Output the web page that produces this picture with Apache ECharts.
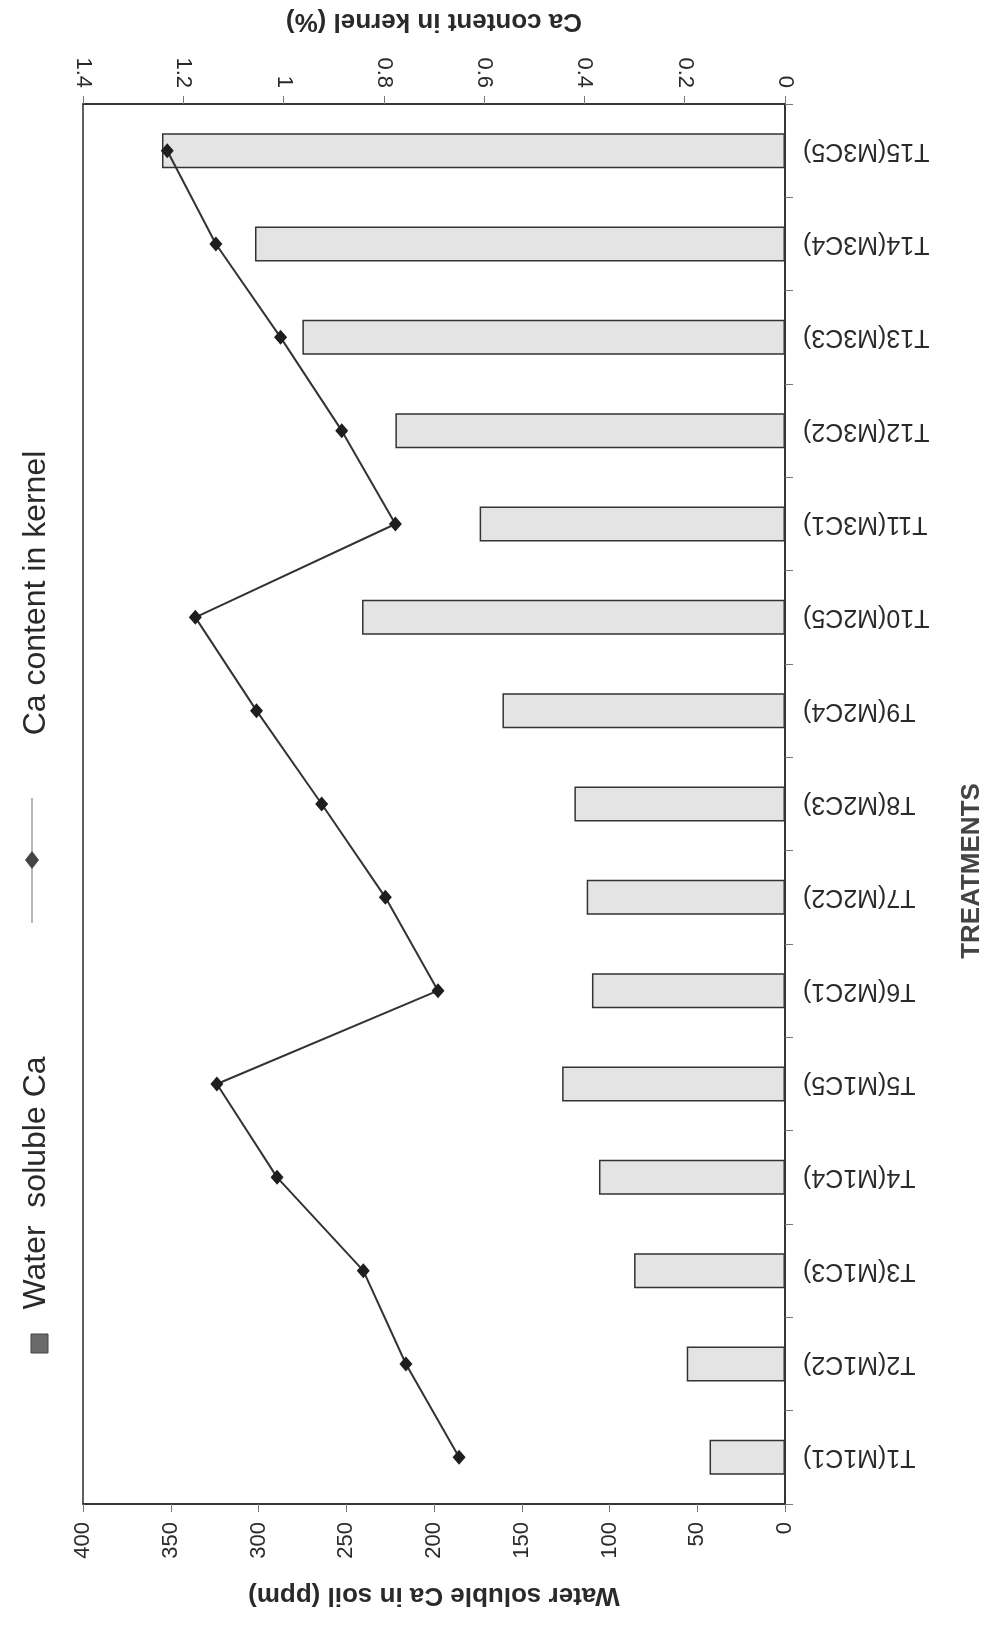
<!DOCTYPE html>
<html>
<head>
<meta charset="utf-8">
<script src="https://cdn.jsdelivr.net/npm/echarts@6/dist/echarts.min.js"></script>
<style>
  html, body { margin: 0; padding: 0; background: #fff; }
  #chart { width: 991px; height: 1625px; }
</style>
</head>
<body>
<div id="chart"></div>
<script>
// treatments, bottom to top
var treatments = ['T1(M1C1)', 'T2(M1C2)', 'T3(M1C3)', 'T4(M1C4)', 'T5(M1C5)',
  'T6(M2C1)', 'T7(M2C2)', 'T8(M2C3)', 'T9(M2C4)', 'T10(M2C5)',
  'T11(M3C1)', 'T12(M3C2)', 'T13(M3C3)', 'T14(M3C4)', 'T15(M3C5)'];
// water soluble Ca in soil (ppm)
var waterCa = [43, 56, 86, 106, 127, 110, 113, 120, 161, 241, 174, 222, 275, 302, 355];
// Ca content in kernel (%)
var kernelCa = [0.65, 0.756, 0.841, 1.013, 1.133, 0.692, 0.797, 0.924, 1.054, 1.176, 0.777, 0.884, 1.006, 1.135, 1.232];

var dom = document.getElementById('chart');
var chart = echarts.init(dom);
var font = 'Liberation Sans, Arial, sans-serif';
var ink = '#2a2a2a';

var option = {
  backgroundColor: '#ffffff',
  animation: false,
  grid: {
    left: 83,
    right: 206,
    top: 104,
    bottom: 121,
    show: true,
    borderColor: ink,
    borderWidth: 1.5
  },
  xAxis: [{
    type: 'value',
    position: 'bottom',
    inverse: true,
    min: 0,
    max: 400,
    interval: 50,
    name: 'Water soluble Ca in soil (ppm)',
    nameLocation: 'middle',
    nameRotate: 180,
    nameGap: 78,
    nameTextStyle: { fontFamily: font, fontSize: 26, fontWeight: 'bold', color: ink },
    axisLine: { show: true, lineStyle: { color: ink, width: 1.5 } },
    axisTick: { show: true, length: 8, lineStyle: { color: '#777' } },
    axisLabel: { rotate: 90, margin: 18, fontFamily: font, fontSize: 22, color: ink },
    splitLine: { show: false }
  }, {
    type: 'value',
    position: 'top',
    inverse: true,
    min: 0,
    max: 1.4,
    interval: 0.2,
    name: 'Ca content in kernel (%)',
    nameLocation: 'middle',
    nameRotate: 180,
    nameGap: 70,
    nameTextStyle: { fontFamily: font, fontSize: 26, fontWeight: 'bold', color: ink },
    axisLine: { show: true, lineStyle: { color: ink, width: 1.5 } },
    axisTick: { show: true, length: 8, lineStyle: { color: '#777' } },
    axisLabel: { rotate: 90, margin: 16, fontFamily: font, fontSize: 22, color: ink },
    splitLine: { show: false }
  }],
  yAxis: {
    type: 'category',
    position: 'right',
    data: treatments,
    axisLine: { show: true, lineStyle: { color: ink, width: 1.5 } },
    axisTick: { show: true, length: 8, lineStyle: { color: '#777' } },
    axisLabel: { rotate: 180, margin: 18, interval: 0, fontFamily: font, fontSize: 25, color: ink }
  },
  series: [{
    name: 'Water soluble Ca',
    type: 'bar',
    xAxisIndex: 0,
    barWidth: 35,
    itemStyle: { color: '#e4e4e4', borderColor: '#333', borderWidth: 1.5 },
    data: waterCa
  }, {
    name: 'Ca content in kernel',
    type: 'line',
    xAxisIndex: 1,
    symbol: 'diamond',
    symbolSize: [13, 15],
    lineStyle: { color: '#333', width: 2 },
    itemStyle: { color: '#1e1e1e' },
    data: kernelCa
  }],
  graphic: [
    // legend, drawn sideways like the scan
    { type: 'rect', shape: { x: 31, y: 1334, width: 17, height: 19 }, style: { fill: '#6a6a6a', stroke: '#444' } },
    { type: 'text', x: 36, y: 1183, rotation: Math.PI / 2,
      style: { text: 'Water  soluble Ca', fontFamily: font, fontSize: 32, fill: ink, align: 'center', verticalAlign: 'middle' } },
    { type: 'line', shape: { x1: 32, y1: 798, x2: 32, y2: 923 }, style: { stroke: '#888', lineWidth: 1.2 } },
    { type: 'polygon', shape: { points: [[32, 851], [39, 860], [32, 869], [25, 860]] }, style: { fill: '#444' } },
    { type: 'text', x: 36, y: 593, rotation: Math.PI / 2,
      style: { text: 'Ca content in kernel', fontFamily: font, fontSize: 32, fill: ink, align: 'center', verticalAlign: 'middle' } },
    // category axis title
    { type: 'text', x: 972, y: 871, rotation: Math.PI / 2,
      style: { text: 'TREATMENTS', fontFamily: font, fontSize: 26, fontWeight: 'bold', fill: '#444', align: 'center', verticalAlign: 'middle' } }
  ]
};

chart.setOption(option);
</script>
</body>
</html>
